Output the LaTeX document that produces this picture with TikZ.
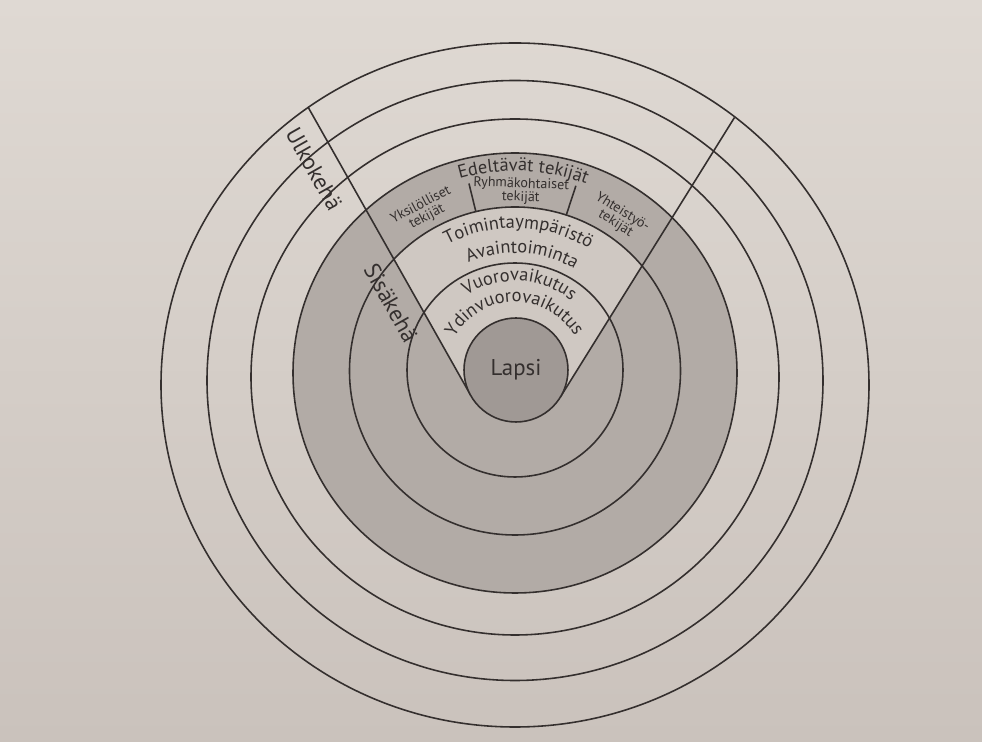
\documentclass[tikz,border=0pt]{standalone}
\usepackage{fontspec}
\setmainfont{PT Sans}
\usetikzlibrary{decorations.text}

\definecolor{papertop}{RGB}{223,217,211}
\definecolor{paperbot}{RGB}{202,194,188}
\definecolor{wedge}{RGB}{207,200,194}
\definecolor{inner}{RGB}{178,171,166}
\definecolor{core}{RGB}{160,153,149}
\definecolor{ink}{RGB}{52,47,46}

\begin{document}
\begin{tikzpicture}[
    x=0.02cm, y=0.02cm,
    ring/.style={draw=ink, line width=0.9pt},
    arclabel/.style={decorate, decoration={text along path, text align=center, text color=ink, text={|\fontsize{10.5}{12}\selectfont|#1}}},
    keha/.style={text=ink, font=\fontsize{13}{15}\selectfont, rotate=-60.5, inner sep=0pt},
    tekija/.style={text=ink, font=\fontsize{8}{7.5}\selectfont, align=center, inner sep=0pt}
]
\useasboundingbox (-515,-371) rectangle (467,371);

% paper
\shade[top color=papertop, bottom color=paperbot] (-515,-371) rectangle (467,371);

% grey inner circle, light sector
\fill[inner] (0,-2) ellipse[x radius=222, y radius=220];
\coordinate (lt) at (-207,264);
\coordinate (lb) at (-44.2,-24.5);
\coordinate (rt) at (219.5,253.5);
\coordinate (rb) at (45.1,-26.5);
\begin{scope}
  \clip (0,0) ellipse[x radius=165.5, y radius=164];
  \fill[wedge] (lb) -- (lt) -- (rt) -- (rb) arc[start angle=-31.9, end angle=-150.6, radius=52] -- cycle;
\end{scope}

% rings
\foreach \cy/\rx/\ry in {1/108/107, 0/165.5/164, -2/222/220, -6/264/258, -9.5/308/300, -14/354/342}
  \draw[ring] (0,\cy) ellipse[x radius=\rx, y radius=\ry];

% sector lines
\draw[ring] (lt) -- (lb);
\draw[ring] (rt) -- (rb);
\draw[ring] (103.8:193) -- (103.8:164);
\draw[ring] (71.8:195) -- (71.8:164);

\node[circle, ring, fill=core, minimum size=2.08cm, inner sep=0pt, text=ink, font=\fontsize{13}{15}\selectfont] (lapsi) at (1,1) {Lapsi};

% curved labels
\path[arclabel={Edeltävät tekijät}] (172.6:200) arc[start angle=172.6, end angle=2.6, radius=200];
\path[arclabel={Toimintaympäristö}] (173.5:143) arc[start angle=173.5, end angle=3.5, radius=143];
\path[arclabel={Avaintoiminta}] (171.5:118) arc[start angle=171.5, end angle=1.5, radius=118];
\path[arclabel={Vuorovaikutus}] (172:90) arc[start angle=172, end angle=2, radius=90];
\path[arclabel={Ydinvuorovaikutus}] (175.5:69) arc[start angle=175.5, end angle=5.5, radius=69];

% small labels
\node[tekija, rotate=28] (yks) at (-91,160) {Yksilölliset\\tekijät};
\node[tekija, rotate=-2] (ryh) at (6,180) {Ryhmäkohtaiset\\tekijät};
\node[tekija, rotate=-32] (yht) at (104,153) {Yhteistyö-\\tekijät};

% ring names
\node[keha] (ulko) at (-201,202) {Ulkokehä};
\node[keha] (sisa) at (-124,68) {Sisäkehä};

\end{tikzpicture}
\end{document}
